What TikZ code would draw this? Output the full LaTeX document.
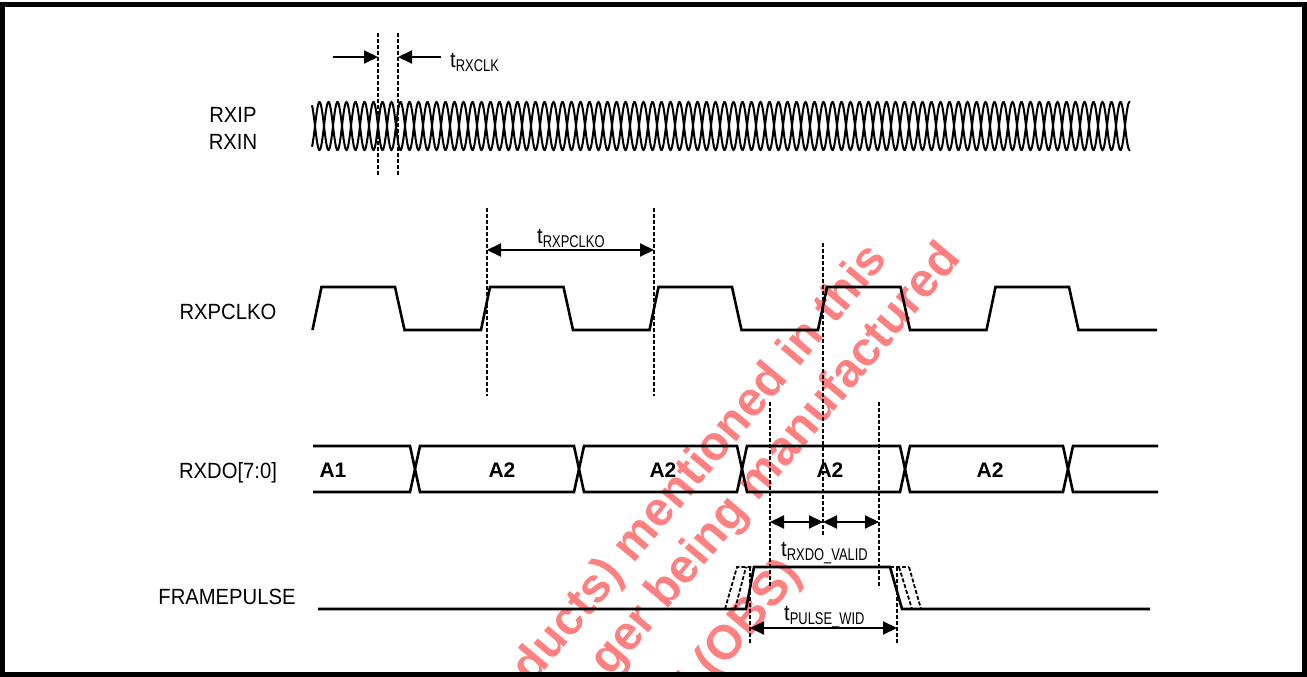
\documentclass[tikz,border=0pt]{standalone}
\usepackage{fontspec}
\usepackage{graphicx}
\setmainfont{Liberation Sans}
\usetikzlibrary{arrows.meta}
\definecolor{wmred}{RGB}{255,128,128}
\newcommand\tlab[1]{{\fontsize{22}{22}\selectfont\scalebox{0.92}[1]{t}}\raisebox{-4pt}{\fontsize{17}{17}\selectfont\scalebox{0.76}[1]{#1}}}
\newcommand\siglab[1]{{\fontsize{22}{24}\selectfont\scalebox{0.92}[1]{#1}}}
\begin{document}
\begin{tikzpicture}[x=1pt,y=-1pt,
  sig/.style={line width=2.6pt, line join=miter},
  diff/.style={line width=2pt},
  dashv/.style={line width=2pt, dash pattern=on 4pt off 2pt},
  dashsig/.style={line width=1.8pt, dash pattern=on 4pt off 2pt},
  dim/.style={line width=2pt, -{Triangle[length=14pt,width=13pt]}},
  ddim/.style={line width=2pt, {Triangle[length=14pt,width=13pt]}-{Triangle[length=14pt,width=13pt]}},
  lab/.style={inner sep=0pt},
  buslab/.style={inner sep=0pt, font=\fontsize{21}{21}\selectfont\bfseries},
  wm/.style={inner sep=0pt, text=wmred, rotate=50, font=\fontsize{48}{52}\selectfont\bfseries}]
\useasboundingbox (0,0) rectangle (1307,677);
\fill[white] (0,0) rectangle (1307,677);
% watermark
\begin{scope}
\clip (0,0) rectangle (1307,677);
\node[wm, anchor=base east] (wm1) at (889,260) {ducts) mentioned in this};
\node[wm, anchor=base east] (wm2) at (962,259) {ger being manufactured};
\node[wm, anchor=base east] (wm3) at (803,575) {d (OBS)};
\end{scope}
% signal names
\node[lab] (nrxip) at (233,115) {\siglab{RXIP}};
\node[lab] (nrxin) at (233,142) {\siglab{RXIN}};
\node[lab] (nclk) at (228,312) {\siglab{RXPCLKO}};
\node[lab] (nrxdo) at (228,473) {\siglab{RXDO[7:0]}};
\node[lab] (nfp) at (227,597) {\siglab{FRAMEPULSE}};
% differential RXIP / RXIN
\draw[diff] plot[domain=312:1130, samples=1400] (\x, {126 + 24*sin((\x-378)*20)});
\draw[diff] plot[domain=312:1130, samples=1400] (\x, {126 - 24*sin((\x-378)*20)});
% t_RXCLK
\coordinate (c1t) at (378,33); \coordinate (c1b) at (378,175);
\coordinate (c2t) at (398,33); \coordinate (c2b) at (398,175);
\draw[dashv] (c1t) -- (c1b);
\draw[dashv] (c2t) -- (c2b);
\coordinate (a1s) at (333,57); \coordinate (a1e) at (378,57);
\coordinate (a2s) at (441,57); \coordinate (a2e) at (398,57);
\draw[dim] (a1s) -- (a1e);
\draw[dim] (a2s) -- (a2e);
\node[lab, anchor=base west] (lrxclk) at (450,68) {\tlab{RXCLK}};
% RXPCLKO
\draw[sig] (312.5,330) -- (321.5,287) -- (395,287) -- (404.5,330)
  -- (481,330) -- (490,287) -- (563.5,287) -- (573,330)
  -- (649.5,330) -- (658.5,287) -- (732,287) -- (741.5,330)
  -- (818,330) -- (827,287) -- (900.5,287) -- (910,330)
  -- (986.5,330) -- (995.5,287) -- (1069,287) -- (1078.5,330) -- (1157,330);
\coordinate (p1t) at (487,208); \coordinate (p1b) at (487,396);
\coordinate (p2t) at (654,208); \coordinate (p2b) at (654,396);
\draw[dashv] (p1t) -- (p1b);
\draw[dashv] (p2t) -- (p2b);
\draw[ddim] (487,250) -- (654,250);
\node[lab, anchor=base west] (lrxp) at (537,243) {\tlab{RXPCLKO}};
% RXDO bus
\draw[sig] (313,446) -- (410,446) -- (415,469) -- (410,492) -- (313,492);
\foreach \a/\b in {415/579, 579/742, 742/905, 905/1068}{
  \draw[sig] (\a,469) -- (\a+5,446) -- (\b-5,446) -- (\b,469) -- (\b-5,492) -- (\a+5,492) -- cycle;
}
\draw[sig] (1158,446) -- (1073,446) -- (1068,469) -- (1073,492) -- (1158,492);
\node[buslab] (ba1) at (333,470) {A1};
\node[buslab] (ba2) at (502,470) {A2};
\node[buslab] (ba3) at (663,470) {A2};
\node[buslab] (ba4) at (830,470) {A2};
\node[buslab] (ba5) at (990,470) {A2};
% t_RXDO_VALID
\coordinate (v1t) at (770,402); \coordinate (v1b) at (770,588);
\coordinate (v2t) at (823,243); \coordinate (v2b) at (823,537);
\coordinate (v3t) at (879,402); \coordinate (v3b) at (879,588);
\draw[dashv] (v1t) -- (v1b);
\draw[dashv] (v2t) -- (v2b);
\draw[dashv] (v3t) -- (v3b);
\draw[ddim] (770,522) -- (823,522);
\draw[ddim] (823,522) -- (879,522);
\node[lab, anchor=base west] (lvalid) at (781,556) {\tlab{RXDO\_VALID}};
% FRAMEPULSE
\draw[sig] (318,609) -- (746,609) -- (754,567) -- (890,567) -- (902,609) -- (1150,609);
\draw[dashsig] (725,609) -- (737,567) -- (754,567);
\draw[dashsig] (735,609) -- (746,567);
\draw[dashsig] (890,567) -- (909,567);
\draw[dashsig] (899,567) -- (912,609);
\draw[dashsig] (909,567) -- (921,609) -- (902,609);
\coordinate (w1t) at (750,567); \coordinate (w1b) at (750,643);
\coordinate (w2t) at (897,567); \coordinate (w2b) at (897,643);
\draw[dashv] (w1t) -- (w1b);
\draw[dashv] (w2t) -- (w2b);
\draw[ddim] (750,628) -- (897,628);
\node[lab, anchor=base west] (lpw) at (784,620) {\tlab{PULSE\_WID}};
% frame
\draw[line width=5pt] (2.5,4.5) rectangle (1304.5,674.5);
\end{tikzpicture}
\end{document}
